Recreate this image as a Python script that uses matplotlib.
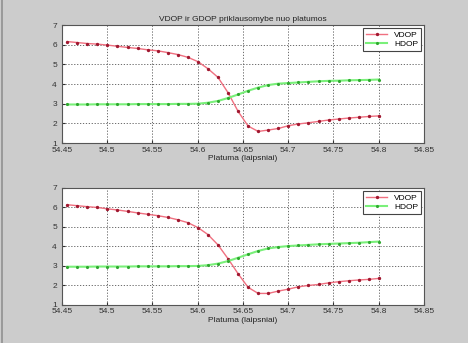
import matplotlib
matplotlib.use('Agg')
from matplotlib import pyplot as plt
from matplotlib.patches import Rectangle

# platuma (laipsniai)
platuma = [54.456, 54.4671, 54.4782, 54.4893, 54.5004, 54.5115, 54.5226, 54.5337,
           54.5448, 54.5559, 54.5670, 54.5781, 54.5892, 54.6003, 54.6114, 54.6225,
           54.6336, 54.6447, 54.6558, 54.6669, 54.6780, 54.6891, 54.7002, 54.7113,
           54.7224, 54.7335, 54.7446, 54.7557, 54.7668, 54.7779, 54.7890, 54.8000]

vdop_1 = [6.16, 6.11, 6.06, 6.03, 5.98, 5.92, 5.86, 5.81, 5.74, 5.69, 5.60, 5.50,
          5.36, 5.14, 4.78, 4.34, 3.56, 2.61, 1.86, 1.59, 1.66, 1.74, 1.88, 1.97,
          2.03, 2.10, 2.17, 2.22, 2.27, 2.31, 2.35, 2.38]
hdop_1 = [2.96, 2.96, 2.96, 2.97, 2.97, 2.97, 2.97, 2.98, 2.98, 2.98, 2.98, 2.99,
          2.99, 3.00, 3.05, 3.14, 3.29, 3.47, 3.66, 3.82, 3.95, 4.02, 4.05, 4.08,
          4.11, 4.14, 4.16, 4.17, 4.19, 4.20, 4.21, 4.23]

vdop_2 = [6.14, 6.09, 6.04, 6.00, 5.93, 5.87, 5.80, 5.72, 5.65, 5.58, 5.49, 5.37,
          5.22, 4.97, 4.61, 4.08, 3.37, 2.60, 1.90, 1.59, 1.59, 1.71, 1.81, 1.93,
          2.00, 2.05, 2.13, 2.19, 2.24, 2.28, 2.31, 2.36]
hdop_2 = [2.96, 2.96, 2.96, 2.97, 2.97, 2.97, 2.97, 2.98, 2.98, 2.98, 2.98, 2.99,
          2.99, 3.00, 3.04, 3.12, 3.25, 3.42, 3.60, 3.77, 3.90, 3.97, 4.02, 4.05,
          4.08, 4.11, 4.13, 4.15, 4.17, 4.19, 4.22, 4.25]

xticks = [54.45, 54.5, 54.55, 54.6, 54.65, 54.7, 54.75, 54.8, 54.85]
xtick_labels = ['54.45', '54.5', '54.55', '54.6', '54.65', '54.7', '54.75', '54.8', '54.85']
yticks = [1, 2, 3, 4, 5, 6, 7]

plt.rcParams['font.family'] = ['Liberation Sans', 'DejaVu Sans']

fig = plt.figure(figsize=(4.68, 3.43), dpi=100)
fig.patch.set_facecolor('#cccccc')
# tamsesnis kraštas kairėje
fig.patches.append(Rectangle((0.002, 0), 0.005, 1, transform=fig.transFigure,
                             facecolor='#9a9a9a', edgecolor='none'))

ax1 = fig.add_axes([0.132, 0.583, 0.774, 0.344])
ax2 = fig.add_axes([0.132, 0.111, 0.774, 0.341])

for ax, v, h in [(ax1, vdop_1, hdop_1), (ax2, vdop_2, hdop_2)]:
    ax.plot(platuma, v, color='#f07080', lw=1.0, marker='.', markersize=2.8,
            markerfacecolor='#a01830', markeredgecolor='#a01830', label='VDOP')
    ax.plot(platuma, h, color='#7af07a', lw=1.5, marker='.', markersize=2.5,
            markerfacecolor='#2fa82f', markeredgecolor='#2fa82f', label='HDOP')
    ax.set_xlim(54.45, 54.85)
    ax.set_ylim(1, 7)
    ax.set_xticks(xticks)
    ax.set_xticklabels(xtick_labels)
    ax.set_yticks(yticks)
    ax.tick_params(axis='x', direction='in', labelsize=6, length=2.5, pad=2.5, colors='#333333')
    ax.tick_params(axis='y', direction='in', labelsize=6, length=2.5, pad=3.5, colors='#333333')
    ax.grid(True, linestyle=(0, (1.5, 2)), color='#555555', lw=0.6)
    for s in ax.spines.values():
        s.set_color('#555555')
        s.set_linewidth(0.8)
    ax.set_xlabel('Platuma (laipsniai)', fontsize=6, labelpad=1, color='#222222')
    leg = ax.legend(loc='upper right', fontsize=6, frameon=True, fancybox=False,
                    handlelength=2.6, borderpad=0.3, labelspacing=0.2,
                    borderaxespad=0.4, framealpha=1)
    leg.get_frame().set_edgecolor('#444444')
    leg.get_frame().set_linewidth(0.8)

ax1.set_title('VDOP ir GDOP priklausomybe nuo platumos', fontsize=6, pad=3, color='#222222')

fig.savefig('out.png', dpi=100, facecolor=fig.get_facecolor())
